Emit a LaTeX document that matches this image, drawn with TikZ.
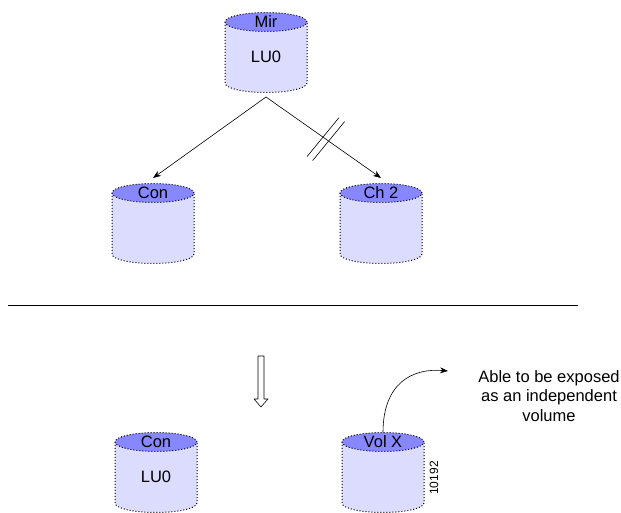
\documentclass[tikz,border=0pt]{standalone}
\usepackage{fontspec}
\setmainfont{Liberation Sans}
\usetikzlibrary{arrows.meta}
\definecolor{drumtop}{RGB}{135,135,255}
\definecolor{drumbody}{RGB}{220,220,255}
% name, x, y of the top centre, lid text, body text
\newcommand{\drum}[5]{%
  \fill[drumbody] (#2-41,#3) -- (#2-41,#3-61) arc (180:360:41 and 9.5) -- (#2+41,#3) -- cycle;
  \draw[rim] (#2-41,#3) -- (#2-41,#3-61) arc (180:360:41 and 9.5) -- (#2+41,#3);
  \draw[rim, fill=drumtop] (#2,#3) ellipse (41 and 9.5);
  \node[drumtext] (#1) at (#2,#3) {#4};
  \node[drumtext] (#1-body) at (#2,#3-35) {#5};
  \coordinate (#1-base) at (#2,#3-75);
  \coordinate (#1-head) at (#2,#3+15);
  \coordinate (#1-lid) at (#2,#3+9.5);
}
\begin{document}
\begin{tikzpicture}[x=1pt, y=1pt, line join=round, >={Stealth[length=8pt,width=6pt]},
    rim/.style={dotted, line width=1pt},
    drumtext/.style={inner sep=0pt, font=\fontsize{16.5}{19.5}\selectfont},
    link/.style={->, line width=0.6pt}]
  \useasboundingbox (0,0) rectangle (621,513);
  \drum{mir}{266}{491}{Mir}{LU0}
  \drum{con}{153}{320}{Con}{}
  \drum{ch}{381}{320}{Ch 2}{}
  \drum{conb}{156}{71}{Con}{LU0}
  \drum{volx}{383}{71}{Vol X}{}
  \draw[link] (mir-base) -- (con-head);
  \draw[link] (mir-base) -- (ch-head) coordinate[pos=0.52] (brk);
  \draw[line width=0.6pt] ([shift={(-2.8,2)}]brk) ++(-16,-19.5) -- ++(32,39);
  \draw[line width=0.6pt] ([shift={(2.8,-2)}]brk) ++(-16,-19.5) -- ++(32,39);
  % divider
  \coordinate (cut-l) at (8,207);
  \coordinate (cut-r) at (578,207);
  \draw[line width=1pt] (cut-l) -- (cut-r);
  % hollow arrow
  \coordinate (down) at (261,157);
  \draw[line width=0.6pt] (down) ++(-3,0) -- ++(0,-43) -- ++(-4,0) -- ++(7,-8) -- ++(7,8) -- ++(-4,0) -- ++(0,43) -- cycle;
  \coordinate (expose) at (448,142);
  \draw[link] (volx-lid) .. controls +(0,50) and +(-35,3) .. (expose);
  \node[align=center, inner sep=0pt, font=\fontsize{16.5}{19.5}\selectfont] (note) at (549,117)
    {Able to be exposed\\as an independent\\volume};
  \node[rotate=90, inner sep=0pt, font=\fontsize{12}{14}\selectfont] (fig) at (434,35) {10192};
\end{tikzpicture}
\end{document}
